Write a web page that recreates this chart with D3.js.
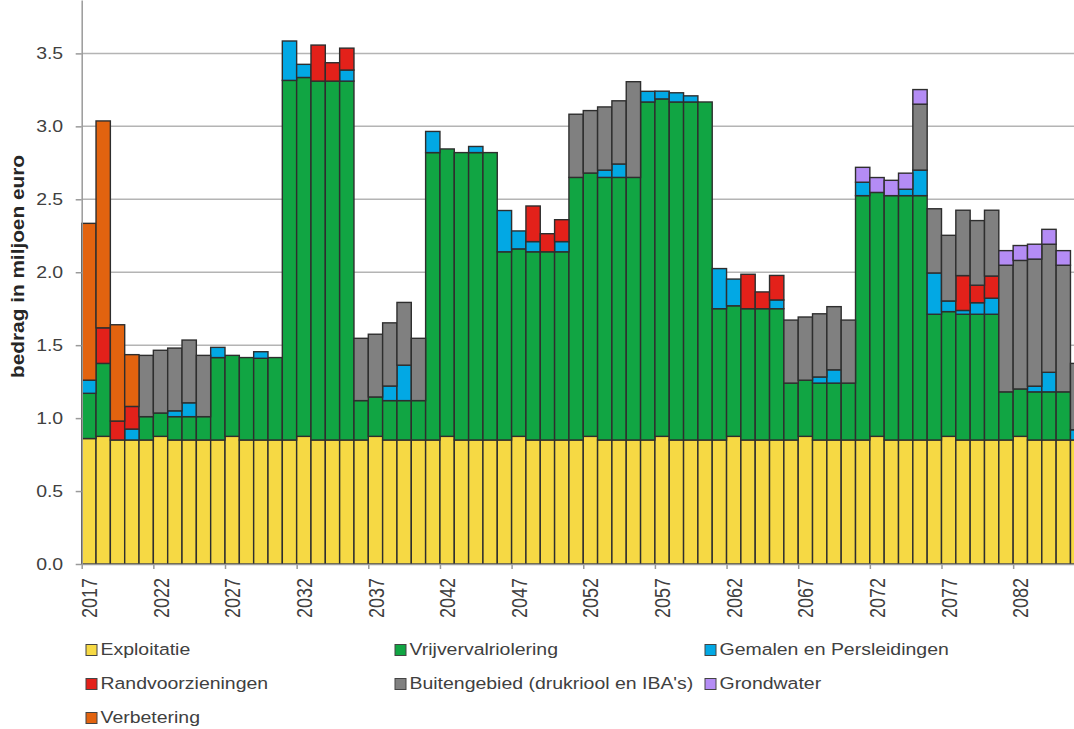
<!DOCTYPE html>
<html>
<head>
<meta charset="utf-8">
<script src="https://cdn.jsdelivr.net/npm/d3@7"></script>
<style>
  body { margin: 0; background: #fff; overflow: hidden; }
  text { font-family: "Liberation Sans", Arial, sans-serif; fill: #404040; }
</style>
</head>
<body>
<div class="chart"></div>
<script>
// Data (bedragen in miljoen euro, per jaar)
var years = [2017, 2018, 2019, 2020, 2021, 2022, 2023, 2024, 2025, 2026,
             2027, 2028, 2029, 2030, 2031, 2032, 2033, 2034, 2035, 2036,
             2037, 2038, 2039, 2040, 2041, 2042, 2043, 2044, 2045, 2046,
             2047, 2048, 2049, 2050, 2051, 2052, 2053, 2054, 2055, 2056,
             2057, 2058, 2059, 2060, 2061, 2062, 2063, 2064, 2065, 2066,
             2067, 2068, 2069, 2070, 2071, 2072, 2073, 2074, 2075, 2076,
             2077, 2078, 2079, 2080, 2081, 2082, 2083, 2084, 2085, 2086];

var exploitatie = [0.86, 0.875, 0.85, 0.85, 0.85, 0.875, 0.85, 0.85, 0.85, 0.85,
                   0.875, 0.85, 0.85, 0.85, 0.85, 0.875, 0.85, 0.85, 0.85, 0.85,
                   0.875, 0.85, 0.85, 0.85, 0.85, 0.875, 0.85, 0.85, 0.85, 0.85,
                   0.875, 0.85, 0.85, 0.85, 0.85, 0.875, 0.85, 0.85, 0.85, 0.85,
                   0.875, 0.85, 0.85, 0.85, 0.85, 0.875, 0.85, 0.85, 0.85, 0.85,
                   0.875, 0.85, 0.85, 0.85, 0.85, 0.875, 0.85, 0.85, 0.85, 0.85,
                   0.875, 0.85, 0.85, 0.85, 0.85, 0.875, 0.85, 0.85, 0.85, 0.85];

var vrijverval = [0.31, 0.50, 0, 0, 0.16, 0.16, 0.16, 0.16, 0.16, 0.565,
                  0.555, 0.565, 0.56, 0.565, 2.465, 2.46, 2.46, 2.46, 2.46, 0.27,
                  0.27, 0.27, 0.27, 0.27, 1.97, 1.97, 1.97, 1.97, 1.97, 1.29,
                  1.285, 1.29, 1.29, 1.29, 1.80, 1.805, 1.80, 1.80, 1.80, 2.317,
                  2.313, 2.317, 2.317, 2.317, 0.90, 0.895, 0.90, 0.90, 0.90, 0.39,
                  0.385, 0.39, 0.39, 0.39, 1.675, 1.672, 1.675, 1.675, 1.675, 0.862,
                  0.855, 0.862, 0.862, 0.862, 0.33, 0.325, 0.33, 0.33, 0.33, 0];

var gemalen = [0.09, 0, 0, 0.075, 0, 0, 0.04, 0.095, 0, 0.07,
               0, 0, 0.045, 0, 0.27, 0.09, 0, 0, 0.076, 0,
               0, 0.10, 0.243, 0, 0.145, 0, 0, 0.042, 0, 0.283,
               0.123, 0.07, 0, 0.07, 0, 0, 0.05, 0.092, 0, 0.073,
               0.053, 0.063, 0.042, 0, 0.275, 0.183, 0, 0, 0.06, 0,
               0, 0.042, 0.091, 0, 0.092, 0, 0, 0.044, 0.175, 0.283,
               0.073, 0.026, 0.079, 0.11, 0, 0, 0.039, 0.134, 0, 0.07];

var randvoorzieningen = [0, 0.244, 0.13, 0.155, 0, 0, 0, 0, 0, 0,
                         0, 0, 0, 0, 0, 0, 0.247, 0.126, 0.15, 0,
                         0, 0, 0, 0, 0, 0, 0, 0, 0, 0,
                         0, 0.244, 0.124, 0.15, 0, 0, 0, 0, 0, 0,
                         0, 0, 0, 0, 0, 0, 0.236, 0.115, 0.168, 0,
                         0, 0, 0, 0, 0, 0, 0, 0, 0, 0,
                         0, 0.239, 0.12, 0.152, 0, 0, 0, 0, 0, 0];

var buitengebied = [0, 0, 0, 0, 0.42, 0.43, 0.43, 0.43, 0.42, 0,
                    0, 0, 0, 0, 0, 0, 0, 0, 0, 0.427,
                    0.43, 0.433, 0.43, 0.427, 0, 0, 0, 0, 0, 0,
                    0, 0, 0, 0, 0.433, 0.428, 0.433, 0.433, 0.656, 0,
                    0, 0, 0, 0, 0, 0, 0, 0, 0, 0.432,
                    0.433, 0.433, 0.433, 0.432, 0, 0, 0, 0, 0.452, 0.44,
                    0.45, 0.448, 0.443, 0.451, 0.868, 0.881, 0.871, 0.878, 0.868, 0.455];

var grondwater = [0, 0, 0, 0, 0, 0, 0, 0, 0, 0,
                  0, 0, 0, 0, 0, 0, 0, 0, 0, 0,
                  0, 0, 0, 0, 0, 0, 0, 0, 0, 0,
                  0, 0, 0, 0, 0, 0, 0, 0, 0, 0,
                  0, 0, 0, 0, 0, 0, 0, 0, 0, 0,
                  0, 0, 0, 0, 0.102, 0.102, 0.105, 0.11, 0.10, 0,
                  0, 0, 0, 0, 0.10, 0.102, 0.102, 0.102, 0.10, 0];

var verbetering = [1.075, 1.418, 0.66, 0.355, 0, 0, 0, 0, 0, 0,
                   0, 0, 0, 0, 0, 0, 0, 0, 0, 0,
                   0, 0, 0, 0, 0, 0, 0, 0, 0, 0,
                   0, 0, 0, 0, 0, 0, 0, 0, 0, 0,
                   0, 0, 0, 0, 0, 0, 0, 0, 0, 0,
                   0, 0, 0, 0, 0, 0, 0, 0, 0, 0,
                   0, 0, 0, 0, 0, 0, 0, 0, 0, 0];

var seriesKeys = ["exploitatie", "vrijverval", "gemalen", "randvoorzieningen",
                  "buitengebied", "grondwater", "verbetering"];
var seriesNames = ["Exploitatie", "Vrijvervalriolering", "Gemalen en Persleidingen",
                   "Randvoorzieningen", "Buitengebied (drukriool en IBA's)", "Grondwater",
                   "Verbetering"];
var seriesColors = ["#f6d944", "#11a543", "#02a8e4", "#e3211a",
                    "#808080", "#b48cf5", "#e2630f"];

var xTickYears = [2017, 2022, 2027, 2032, 2037, 2042, 2047, 2052, 2057, 2062, 2067, 2072, 2077, 2082];
var yTicks = [0, 0.5, 1.0, 1.5, 2.0, 2.5, 3.0, 3.5];

var svgWidth = 1074;
var svgHeight = 729;

var svg = d3.select(".chart")
  .append("svg")
  .attr("width", svgWidth)
  .attr("height", svgHeight);

// Step 1: build the table for the stack layout
// ==============================
var table = years.map(function(yr, i) {
  return {
    year: yr,
    exploitatie: exploitatie[i],
    vrijverval: vrijverval[i],
    gemalen: gemalen[i],
    randvoorzieningen: randvoorzieningen[i],
    buitengebied: buitengebied[i],
    grondwater: grondwater[i],
    verbetering: verbetering[i]
  };
});

var stacked = d3.stack().keys(seriesKeys)(table);

// Step 2: scales (plot runs past the right edge of the picture)
// ==============================
var barStep = 14.33;
var xLeft = 81.7;
var x = d3.scaleLinear()
  .domain([years[0], years[years.length - 1] + 1])
  .range([xLeft, xLeft + years.length * barStep]);

var y = d3.scaleLinear()
  .domain([0, 3.866])
  .range([564, 0]);

var color = d3.scaleOrdinal().domain(seriesKeys).range(seriesColors);

// Step 3: gridlines
// ==============================
svg.append("g")
  .selectAll("line")
  .data(yTicks.filter(d => d > 0))
  .enter()
  .append("line")
  .attr("x1", xLeft)
  .attr("x2", svgWidth)
  .attr("y1", d => y(d))
  .attr("y2", d => y(d))
  .attr("stroke", "#b4b4b4")
  .attr("stroke-width", 1.5);

// Step 4: stacked bars
// ==============================
svg.append("g")
  .selectAll("g")
  .data(stacked)
  .enter()
  .append("g")
  .attr("fill", d => color(d.key))
  .selectAll("rect")
  .data(d => d.filter(s => s[1] - s[0] > 0.0001))
  .enter()
  .append("rect")
  .attr("x", d => x(d.data.year))
  .attr("width", d => x(d.data.year + 1) - x(d.data.year))
  .attr("y", d => y(d[1]))
  .attr("height", d => y(d[0]) - y(d[1]))
  .attr("stroke", "#2e2e2e")
  .attr("stroke-width", 1.4);

// Step 5: axes
// ==============================
var leftAxis = d3.axisLeft(y)
  .tickValues(yTicks)
  .tickSizeInner(6)
  .tickSizeOuter(0)
  .tickFormat(d3.format(".1f"));

var yAxisG = svg.append("g")
  .attr("transform", `translate(${xLeft}, 0)`)
  .call(leftAxis);

yAxisG.select(".domain").attr("stroke", "#9a9a9a").attr("stroke-width", 1.5);
yAxisG.selectAll(".tick line").attr("stroke", "#9a9a9a").attr("stroke-width", 1.5);
yAxisG.selectAll(".tick text")
  .attr("x", null)
  .attr("dy", null)
  .attr("dominant-baseline", "central")
  .attr("transform", "translate(-18.5, 0) scale(1.18, 1)")
  .style("font-size", "16.5px")
  .style("fill", "#404040");

var bottomAxis = d3.axisBottom(x)
  .tickValues(xTickYears)
  .tickSizeInner(5)
  .tickSizeOuter(0)
  .tickFormat(d3.format("d"));

var xAxisG = svg.append("g")
  .attr("transform", `translate(0, ${y(0)})`)
  .call(bottomAxis);

xAxisG.select(".domain").attr("stroke", "#9a9a9a").attr("stroke-width", 1.5);
xAxisG.selectAll(".tick line").attr("stroke", "#9a9a9a").attr("stroke-width", 1.5);
// rotated labels, glyphs a little wider across like the reference
xAxisG.selectAll(".tick text")
  .attr("y", null)
  .attr("dy", null)
  .attr("text-anchor", "end")
  .attr("transform", "translate(14.7, 14) rotate(-90) scale(1, 1.18)")
  .style("font-size", "18px")
  .style("fill", "#404040");

// Step 6: y axis title
// ==============================
svg.append("text")
  .attr("transform", "translate(23.5, 266.5) rotate(-90) scale(1.155, 1)")
  .attr("text-anchor", "middle")
  .style("font-size", "18px")
  .style("font-weight", "bold")
  .style("fill", "#262626")
  .text("bedrag in miljoen euro");

// Step 7: legend (3 columns)
// ==============================
var legendCols = [86, 395, 705];
var legendRows = [650, 684, 718];

var legend = svg.append("g")
  .selectAll("g")
  .data(seriesNames)
  .enter()
  .append("g")
  .attr("transform", (d, i) => `translate(${legendCols[i % 3]}, ${legendRows[Math.floor(i / 3)]})`);

legend.append("rect")
  .attr("x", 0)
  .attr("y", -5.5)
  .attr("width", 11)
  .attr("height", 11)
  .attr("fill", (d, i) => seriesColors[i])
  .attr("stroke", "#444")
  .attr("stroke-width", 1);

legend.append("text")
  .attr("transform", "translate(14.5, 0) scale(1.18, 1)")
  .attr("dominant-baseline", "central")
  .style("font-size", "16.5px")
  .text(d => d);
</script>
</body>
</html>
